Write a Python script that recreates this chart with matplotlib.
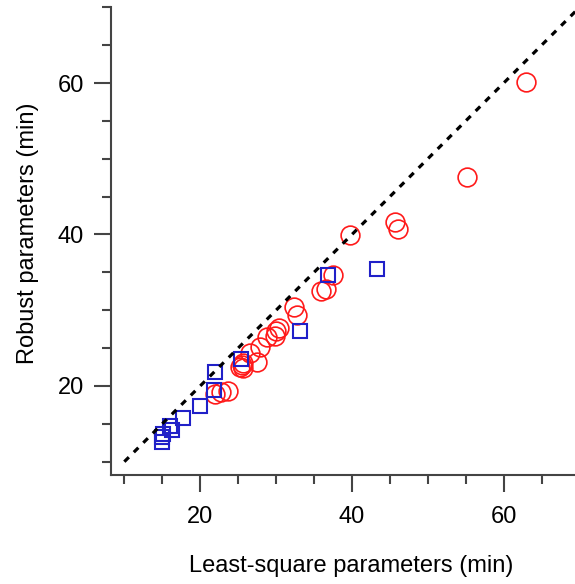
import matplotlib
matplotlib.use("Agg")
import matplotlib.pyplot as plt
from matplotlib.ticker import FixedLocator

# Data
red_x = [22.0, 22.8, 23.7, 25.3, 25.5, 25.7, 25.6, 26.6, 27.5, 27.9, 28.8,
         29.9, 30.0, 30.4, 32.4, 32.7, 35.9, 36.6, 37.5, 39.8, 45.7, 46.1,
         55.1, 62.9]
red_y = [18.9, 19.2, 19.3, 22.5, 22.8, 23.0, 22.4, 24.3, 23.2, 25.2, 26.4,
         26.6, 27.3, 27.7, 30.4, 29.4, 32.5, 32.8, 34.7, 39.9, 41.7, 40.7,
         47.6, 60.2]

blue_x = [14.9, 14.9, 15.1, 16.0, 16.3, 17.7, 20.0, 21.8, 21.9, 25.4, 33.2,
          36.9, 43.3]
blue_y = [12.6, 13.3, 13.7, 14.7, 14.2, 15.8, 17.4, 19.5, 21.8, 23.5, 27.3,
          34.7, 35.4]

diag = [10, 72]

x_label = "Least-square parameters (min)"
y_label = "Robust parameters (min)"
major_ticks = [20, 40, 60]

plt.rcParams['font.family'] = ['Liberation Sans', 'DejaVu Sans']

fig = plt.figure(figsize=(5.75, 5.84), dpi=100)
ax = fig.add_axes([0.1922, 0.1866, 0.8078, 0.8009])

ax.plot(red_x, red_y, linestyle='none', marker='o', ms=13.5, mew=1.2,
        mfc='none', mec='#ff1a1a', zorder=2)
ax.plot(blue_x, blue_y, linestyle='none', marker='s', ms=10, mew=1.5,
        mfc='none', mec='#2020c8', zorder=3)
ax.plot(diag, diag, color='black', lw=2.3, dashes=(2.0, 2.2),
        dash_capstyle='butt', zorder=4)

ax.set_xlim(8.18, 69.4)
ax.set_ylim(8.24, 70)

minor = [v for v in range(10, 71, 5) if v not in major_ticks]
ax.xaxis.set_major_locator(FixedLocator(major_ticks))
ax.yaxis.set_major_locator(FixedLocator(major_ticks))
ax.xaxis.set_minor_locator(FixedLocator(minor))
ax.yaxis.set_minor_locator(FixedLocator(minor))

spine_color = '#444444'
for s in ['top', 'right']:
    ax.spines[s].set_visible(False)
for s in ['left', 'bottom']:
    ax.spines[s].set_color(spine_color)
    ax.spines[s].set_linewidth(1.5)

ax.tick_params(which='major', length=12, width=1.5, color=spine_color,
               labelsize=17, direction='out')
ax.tick_params(axis='x', which='major', pad=10)
ax.tick_params(axis='y', which='major', pad=7)
ax.tick_params(which='minor', length=6.5, width=1.5, color=spine_color,
               direction='out')

ax.set_xlabel(x_label, fontsize=17)
ax.set_ylabel(y_label, fontsize=17)
ax.xaxis.set_label_coords(0.519, -0.172)
ax.yaxis.set_label_coords(-0.154, 0.517)

fig.savefig("out.png", dpi=100)
